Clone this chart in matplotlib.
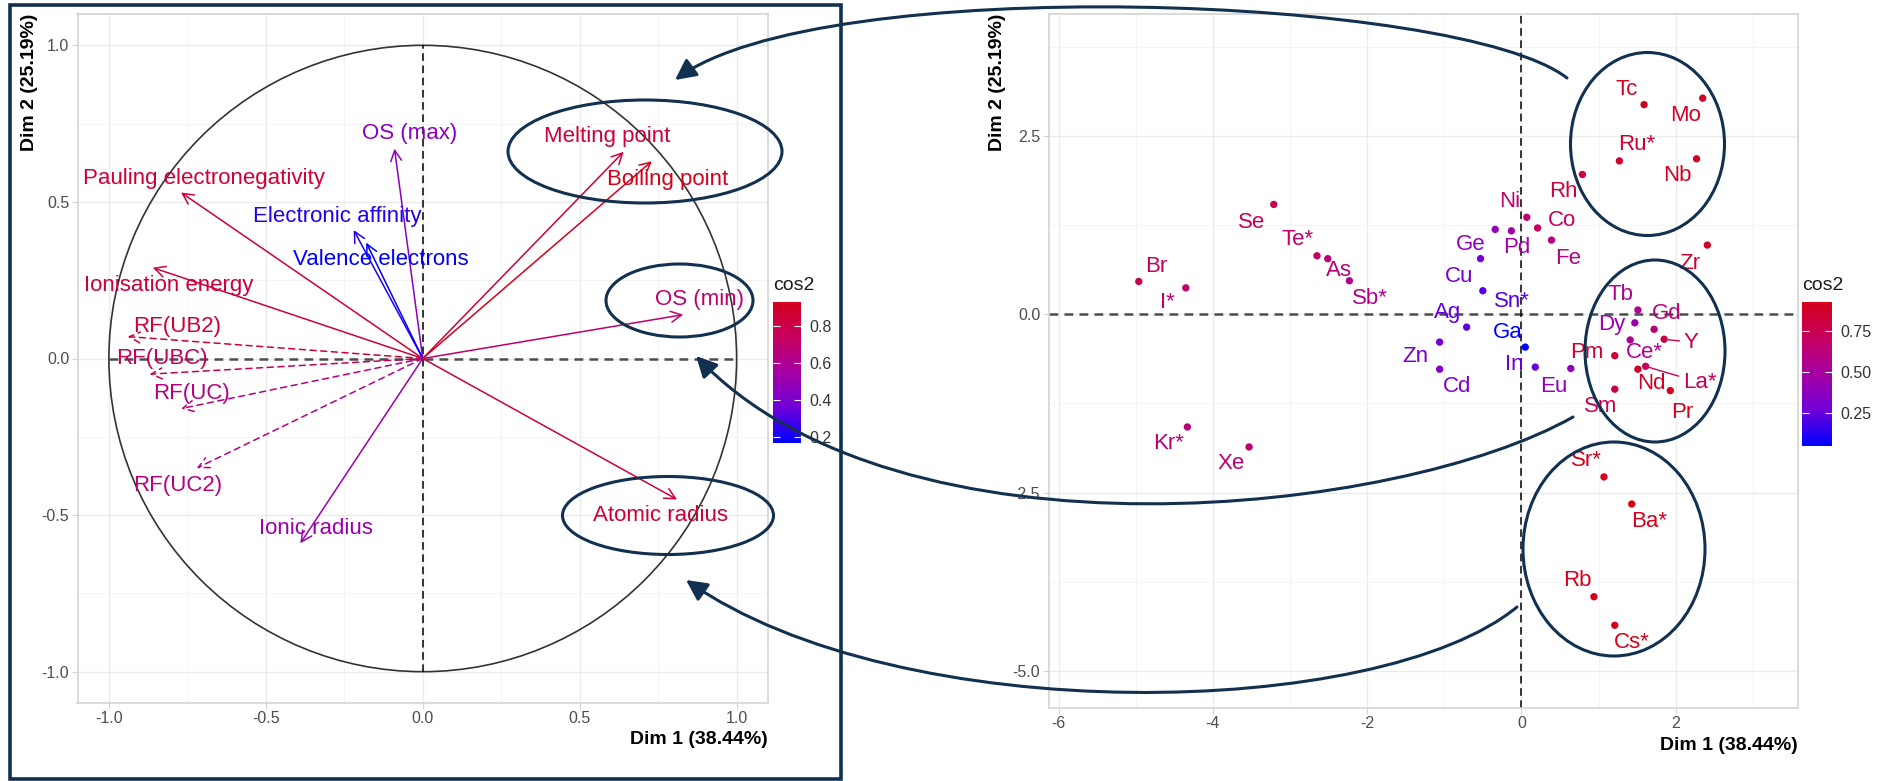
import numpy as np
import matplotlib.pyplot as plt
from matplotlib.colors import LinearSegmentedColormap, Normalize
from matplotlib.cm import ScalarMappable
from matplotlib.patches import Ellipse, Rectangle, Circle, FancyArrowPatch
from matplotlib.path import Path

plt.rcParams['font.family'] = ['Liberation Sans', 'DejaVu Sans']
plt.rcParams['axes.unicode_minus'] = False

# ---- variables (correlation circle) ----
var_names = ["OS (max)", "Melting point", "Boiling point", "Pauling electronegativity",
             "Electronic affinity", "Valence electrons", "Ionisation energy", "OS (min)",
             "RF(UB2)", "RF(UBC)", "RF(UC)", "RF(UC2)", "Ionic radius", "Atomic radius"]
var_dim1 = [-0.09, 0.64, 0.73, -0.77, -0.22, -0.18, -0.86, 0.83, -0.94, -0.87, -0.77, -0.72, -0.39, 0.81]
var_dim2 = [0.67, 0.66, 0.63, 0.53, 0.41, 0.37, 0.29, 0.14, 0.07, -0.05, -0.16, -0.35, -0.59, -0.45]
var_cos2 = [0.46, 0.85, 0.93, 0.86, 0.23, 0.17, 0.83, 0.70, 0.86, 0.76, 0.64, 0.64, 0.52, 0.86]
supp_vars = ["RF(UB2)", "RF(UBC)", "RF(UC)", "RF(UC2)"]

# ---- individuals ----
ind_names = ["Tc", "Mo", "Ru*", "Nb", "Rh", "Ni", "Co", "Pd", "Ge", "Fe", "Cu", "Se", "Te*", "As",
             "Sb*", "Br", "I*", "Sn*", "Ag", "Ga", "Zn", "Cd", "In", "Eu", "Tb", "Dy", "Gd", "Y",
             "Ce*", "Pm", "Nd", "La*", "Pr", "Sm", "Zr", "Sr*", "Ba*", "Rb", "Cs*", "Kr*", "Xe"]
ind_dim1 = [1.59, 2.35, 1.27, 2.27, 0.79, 0.07, 0.21, -0.13, -0.34, 0.39, -0.53, -3.21, -2.65, -2.51,
            -2.23, -4.96, -4.35, -0.50, -0.71, 0.05, -1.06, -1.06, 0.18, 0.64, 1.51, 1.47, 1.72, 1.85,
            1.41, 1.21, 1.51, 1.61, 1.93, 1.21, 2.41, 1.07, 1.43, 0.94, 1.21, -4.33, -3.53]
ind_dim2 = [2.94, 3.03, 2.15, 2.18, 1.96, 1.36, 1.21, 1.17, 1.19, 1.04, 0.78, 1.54, 0.82, 0.78,
            0.47, 0.46, 0.37, 0.33, -0.18, -0.46, -0.39, -0.77, -0.74, -0.76, 0.06, -0.12, -0.21, -0.35,
            -0.36, -0.58, -0.77, -0.73, -1.07, -1.05, 0.97, -2.28, -2.66, -3.96, -4.36, -1.58, -1.86]
ind_cos2 = [0.90, 0.90, 0.86, 0.90, 0.80, 0.66, 0.70, 0.48, 0.42, 0.60, 0.30, 0.74, 0.68, 0.62,
            0.58, 0.74, 0.66, 0.22, 0.24, 0.05, 0.30, 0.34, 0.26, 0.40, 0.55, 0.45, 0.62, 0.78,
            0.55, 0.86, 0.90, 0.72, 0.92, 0.76, 0.88, 0.93, 0.93, 0.93, 0.93, 0.64, 0.64]

# label offsets from the mark, in pixels (x right, y down)
var_lab_off = {"OS (max)": (15, -15), "Melting point": (-16, -15), "Boiling point": (16, 18),
               "Pauling electronegativity": (23, -14), "Electronic affinity": (-16, -14),
               "Valence electrons": (15, 17), "Ionisation energy": (16, 18), "OS (min)": (16, -15),
               "RF(UB2)": (49, -10), "RF(UBC)": (12, -16), "RF(UC)": (10, -15), "RF(UC2)": (-19, 17),
               "Ionic radius": (16, -15), "Atomic radius": (-16, 16)}
ind_lab_off = {"Tc": (-17, -15), "Mo": (-17, 17), "Ru*": (17, -16), "Nb": (-19, 17), "Rh": (-19, 17),
               "Ni": (-17, -16), "Co": (24, -7), "Pd": (5, 17), "Ge": (-24, 15), "Fe": (17, 18),
               "Cu": (-21, 18), "Se": (-22, 18), "Te*": (-19, -16), "As": (11, 12), "Sb*": (21, 18),
               "Br": (17, -15), "I*": (-18, 15), "Sn*": (29, 11), "Ag": (-19, -15), "Ga": (-18, -15),
               "Zn": (-24, 14), "Cd": (17, 17), "In": (-21, -3), "Eu": (-17, 18), "Tb": (-17, -16),
               "Dy": (-23, 2), "Gd": (13, -16), "Y": (27, 3), "Ce*": (14, 13), "Pm": (-28, -3),
               "Nd": (13, 14), "La*": (54, 16), "Pr": (12, 22), "Sm": (-14, 17), "Zr": (-18, 18),
               "Sr*": (-18, -16), "Ba*": (17, 17), "Rb": (-17, -16), "Cs*": (17, 17),
               "Kr*": (-19, 17), "Xe": (-18, 17)}
linked = ["Y", "La*"]

cmap = LinearSegmentedColormap.from_list(
    'cos2', [(0.0, '#0000FF'), (0.25, '#7000D8'), (0.5, '#A500A4'), (0.75, '#C6005E'), (1.0, '#D4001C')])
navy = '#12304F'
lab_size = 16

W, H = 1884, 781
fig = plt.figure(figsize=(W / 100, H / 100), dpi=100)


def px_rect(x0, y0, x1, y1):
    return [x0 / W, 1 - y1 / H, (x1 - x0) / W, (y1 - y0) / H]


ax1 = fig.add_axes(px_rect(77.5, 14, 768, 703))
ax2 = fig.add_axes(px_rect(1048.5, 14, 1797.6, 708))
cax1 = fig.add_axes(px_rect(772.7, 301.7, 801, 442.7))
cax2 = fig.add_axes(px_rect(1802, 302, 1831.7, 446))


def style_panel(ax, xmaj, xmin, ymaj, ymin, xlab, ylab):
    ax.set_xticks(xmaj)
    ax.set_xticks(xmin, minor=True)
    ax.set_yticks(ymaj)
    ax.set_yticks(ymin, minor=True)
    ax.set_xticklabels(xlab)
    ax.set_yticklabels(ylab)
    ax.grid(which='major', color='#EBEBEB', lw=1.0)
    ax.grid(which='minor', color='#F3F3F3', lw=0.6)
    ax.set_axisbelow(True)
    for s in ax.spines.values():
        s.set_color('#D4D4D4')
        s.set_linewidth(1.2)
    ax.tick_params(which='major', length=4, color='#D4D4D4', labelsize=11.5,
                   labelcolor='#4D4D4D', pad=2)
    ax.tick_params(which='minor', length=0)


# ---- left: correlation circle ----
ax1.set_xlim(-1.1, 1.1)
ax1.set_ylim(-1.1, 1.1)
style_panel(ax1, [-1, -0.5, 0, 0.5, 1], [-0.75, -0.25, 0.25, 0.75],
            [-1, -0.5, 0, 0.5, 1], [-0.75, -0.25, 0.25, 0.75],
            ["-1.0", "-0.5", "0.0", "0.5", "1.0"], ["-1.0", "-0.5", "0.0", "0.5", "1.0"])
ax1.add_patch(Circle((0, 0), 1, fill=False, ec='#333333', lw=1.2))
ax1.hlines(0, -1, 1, color='#4D4D4D', lw=1.8, linestyles=(0, (3.5, 2.5)))
ax1.vlines(0, -1, 1, color='black', lw=1.1, linestyles=(0, (5, 3)))

norm1 = Normalize(min(var_cos2), max(var_cos2))
for name, x, y, c in zip(var_names, var_dim1, var_dim2, var_cos2):
    col = cmap(norm1(c))
    ls = (0, (4, 3)) if name in supp_vars else '-'
    ax1.annotate('', xy=(x, y), xytext=(0, 0),
                 arrowprops=dict(arrowstyle='->,head_length=0.55,head_width=0.28', color=col,
                                 lw=1.1, linestyle=ls, shrinkA=0, shrinkB=0, mutation_scale=14))
    dx, dy = var_lab_off[name]
    ax1.annotate(name, xy=(x, y), xytext=(dx, -dy), textcoords='offset pixels',
                 ha='center', va='center', fontsize=lab_size, color=col)

# ---- right: individuals ----
ax2.set_xlim(-6.13, 3.58)
ax2.set_ylim(-5.52, 4.21)
style_panel(ax2, [-6, -4, -2, 0, 2], [-5, -3, -1, 1, 3],
            [-5, -2.5, 0, 2.5], [-3.75, -1.25, 1.25, 3.75],
            ["-6", "-4", "-2", "0", "2"], ["-5.0", "-2.5", "0.0", "2.5"])
ax2.axhline(0, color='#4D4D4D', lw=1.8, ls=(0, (3.5, 2.5)))
ax2.axvline(0, color='black', lw=1.1, ls=(0, (5, 3)))

norm2 = Normalize(min(ind_cos2), max(ind_cos2))
ind_cols = [cmap(norm2(c)) for c in ind_cos2]
ax2.scatter(ind_dim1, ind_dim2, s=28, c=ind_cols, lw=0, zorder=3)
for name, x, y, col in zip(ind_names, ind_dim1, ind_dim2, ind_cols):
    dx, dy = ind_lab_off[name]
    props = None
    if name in linked:
        props = dict(arrowstyle='-', color=col, lw=1.0, shrinkA=1, shrinkB=3)
    ax2.annotate(name, xy=(x, y), xytext=(dx, -dy), textcoords='offset pixels',
                 ha='center', va='center', fontsize=lab_size, color=col, arrowprops=props)

# ---- colour bars ----
for cax, norm, ticks, labs in [(cax1, norm1, [0.2, 0.4, 0.6, 0.8], ["0.2", "0.4", "0.6", "0.8"]),
                               (cax2, norm2, [0.25, 0.5, 0.75], ["0.25", "0.50", "0.75"])]:
    cb = fig.colorbar(ScalarMappable(norm=norm, cmap=cmap), cax=cax, ticks=ticks)
    cb.set_ticklabels(labs)
    cb.outline.set_visible(False)
    cax.tick_params(left=True, right=True, labelleft=False, labelright=True, direction='in',
                    length=5, color='white', width=0.8, labelsize=11.5, labelcolor='#333333', pad=6)
    x0 = cax.get_position().x0
    fig.text(x0, 1 - 286 / H, 'cos2', ha='left', va='center', fontsize=14, color='#1A1A1A')

# ---- axis titles ----
fig.text(29 / W, 1 - 14 / H, 'Dim 2 (25.19%)', rotation=90, ha='center', va='top',
         fontsize=14, fontweight='bold')
fig.text(768 / W, 1 - 740 / H, 'Dim 1 (38.44%)', ha='right', va='center',
         fontsize=14, fontweight='bold')
fig.text(998 / W, 1 - 14 / H, 'Dim 2 (25.19%)', rotation=90, ha='center', va='top',
         fontsize=14, fontweight='bold')
fig.text(1797.6 / W, 1 - 745 / H, 'Dim 1 (38.44%)', ha='right', va='center',
         fontsize=14, fontweight='bold')

# ---- overlay annotations (figure pixels) ----
ov = fig.add_axes([0, 0, 1, 1], zorder=10)
ov.set_xlim(0, W)
ov.set_ylim(H, 0)
ov.axis('off')
ov.patch.set_alpha(0)

ov.add_patch(Rectangle((10, 5), 831, 774, fill=False, ec=navy, lw=2.6, clip_on=False))
for cx, cy, w, h in [(645, 151.5, 274, 103), (679.5, 300.5, 147, 73), (668, 515.5, 211, 78),
                     (1647.5, 144, 154, 183), (1655, 351, 140, 182), (1614, 549, 182, 214)]:
    ov.add_patch(Ellipse((cx, cy), w, h, fill=False, ec=navy, lw=2.2))

curves = [[(1567, 78), (1460, -5), (820, -28), (675, 80)],
          [(1573, 417), (1400, 515), (900, 570), (696, 356)],
          [(1517, 607), (1380, 720), (900, 730), (686, 580)]]
for pts in curves:
    path = Path(pts, [Path.MOVETO, Path.CURVE4, Path.CURVE4, Path.CURVE4])
    ov.add_patch(FancyArrowPatch(path=path, arrowstyle='-|>,head_length=0.7,head_width=0.35',
                                 mutation_scale=18, color=navy, lw=2.2, clip_on=False))

fig.savefig('out.png', dpi=100)
